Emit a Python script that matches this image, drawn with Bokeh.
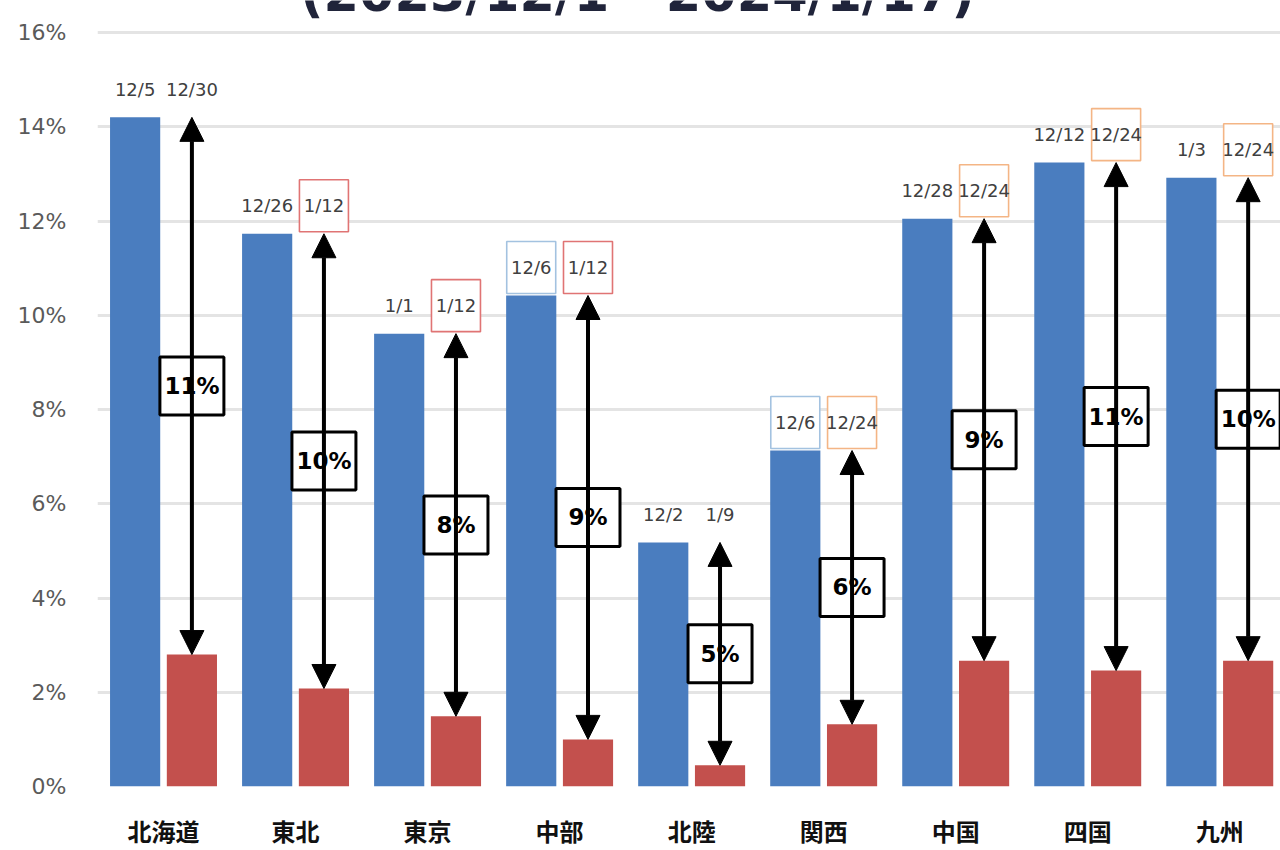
from bokeh.plotting import figure
from bokeh.models import ColumnDataSource, Range1d, FixedTicker, Arrow, NormalHead, Label
from bokeh.core.properties import value
from bokeh.embed import file_html
from bokeh.resources import INLINE

# Regional rates: seasonal peak and low, with the date each occurred
regions = ["北海道", "東北", "東京", "中部", "北陸", "関西", "中国", "四国", "九州"]
peak_rate = [14.20, 11.73, 9.61, 10.42, 5.18, 7.13, 12.05, 13.24, 12.92]
low_rate = [2.80, 2.08, 1.49, 1.00, 0.45, 1.32, 2.67, 2.46, 2.67]
peak_date = ["12/5", "12/26", "1/1", "12/6", "12/2", "12/6", "12/28", "12/12", "1/3"]
low_date = ["12/30", "1/12", "1/12", "1/12", "1/9", "12/24", "12/24", "12/24", "12/24"]
y_ticks = [0, 2, 4, 6, 8, 10, 12, 14, 16]
period = "(2023/12/1 - 2024/1/17)"

# Dates called out with a coloured frame
highlight = {"12/6": "#a3c2e0", "1/12": "#e07474", "12/24": "#f4b585"}

BLUE = "#4a7dbf"
RED = "#c3504d"

W, H = 1280, 850
LEFT, BOTTOM = 97, 64
Y_END = 16.68
X_START, X_END = -0.5, 8.46
PX_PER_UNIT = (H - BOTTOM) / Y_END
BAR_OFF = 0.215
BAR_W = 0.38
LABEL_LIFT = 28 / PX_PER_UNIT

idx = list(range(len(regions)))
x_peak = [i - BAR_OFF for i in idx]
x_low = [i + BAR_OFF for i in idx]

src = ColumnDataSource(dict(
    x_peak=x_peak, x_low=x_low,
    peak=peak_rate, low=low_rate,
    mid=[(a + b) / 2 for a, b in zip(peak_rate, low_rate)],
    diff=[f"{round(a - b)}%" for a, b in zip(peak_rate, low_rate)],
    label_y=[a + LABEL_LIFT for a in peak_rate],
    peak_date=peak_date, low_date=low_date,
))

p = figure(width=W, height=H, output_backend="svg", toolbar_location=None,
           x_range=Range1d(X_START, X_END), y_range=Range1d(0, Y_END),
           min_border_left=LEFT, min_border_right=0, min_border_top=0,
           min_border_bottom=BOTTOM)
p.background_fill_color = "white"
p.border_fill_color = "white"
p.outline_line_color = None

# grid
p.xgrid.visible = False
p.ygrid.ticker = FixedTicker(ticks=y_ticks)
p.ygrid.grid_line_color = "#e4e4e4"
p.ygrid.grid_line_width = 3

# y axis
p.yaxis.ticker = FixedTicker(ticks=y_ticks)
p.yaxis.major_label_overrides = {t: f"{t}%" for t in y_ticks}
p.yaxis.axis_line_color = None
p.yaxis.major_tick_line_color = None
p.yaxis.minor_tick_line_color = None
p.yaxis.major_label_standoff = 25
p.yaxis.major_label_text_font = "DejaVu Sans"
p.yaxis.major_label_text_font_size = "22px"
p.yaxis.major_label_text_color = "#5a5a5a"

# x axis
p.xaxis.ticker = FixedTicker(ticks=idx)
p.xaxis.major_label_overrides = {i: r for i, r in zip(idx, regions)}
p.xaxis.axis_line_color = None
p.xaxis.major_tick_line_color = None
p.xaxis.minor_tick_line_color = None
p.xaxis.major_label_standoff = 20
p.xaxis.major_label_text_font = "Noto Sans CJK JP"
p.xaxis.major_label_text_font_style = "bold"
p.xaxis.major_label_text_font_size = "24px"
p.xaxis.major_label_text_color = "#111111"

# bars
p.vbar(x="x_peak", top="peak", bottom=0, width=BAR_W, source=src,
       fill_color=BLUE, line_color=None)
p.vbar(x="x_low", top="low", bottom=0, width=BAR_W, source=src,
       fill_color=RED, line_color=None)

# double-headed arrows from low to peak
head = dict(size=24, fill_color="black", line_color="black")
p.add_layout(Arrow(source=src, x_start="x_low", y_start="low",
                   x_end="x_low", y_end="peak",
                   start=NormalHead(**head), end=NormalHead(**head),
                   line_color="black", line_width=4))

# difference boxes on the arrows
p.rect(x="x_low", y="mid", width=64, height=58, width_units="screen",
       height_units="screen", source=src, fill_color="white",
       line_color="black", line_width=3)
p.text(x="x_low", y="mid", text="diff", source=src, text_align="center",
       text_baseline="middle", text_font=value("DejaVu Sans"),
       text_font_style="bold", text_font_size="23px", text_color="black")

# framed date callouts
bx, by, bc = [], [], []
for i in idx:
    for xx, d in ((x_peak[i], peak_date[i]), (x_low[i], low_date[i])):
        if d in highlight:
            bx.append(xx)
            by.append(peak_rate[i] + LABEL_LIFT)
            bc.append(highlight[d])
p.rect(x=bx, y=by, width=49, height=52, width_units="screen",
       height_units="screen", fill_color="white", line_color=bc, line_width=1.6)

# date labels
date_style = dict(text_align="center", text_baseline="middle",
                  text_font=value("DejaVu Sans"), text_font_size="18px",
                  text_color="#404040")
p.text(x="x_peak", y="label_y", text="peak_date", source=src, **date_style)
p.text(x="x_low", y="label_y", text="low_date", source=src, **date_style)

# period heading, running off the top edge
p.add_layout(Label(x=3.59, y=16.82, text=period, text_align="center",
                   text_baseline="alphabetic", text_font="DejaVu Sans",
                   text_font_style="bold", text_font_size="51px",
                   text_color="#20243a"))

open("out.html", "w").write(file_html(p, INLINE))
